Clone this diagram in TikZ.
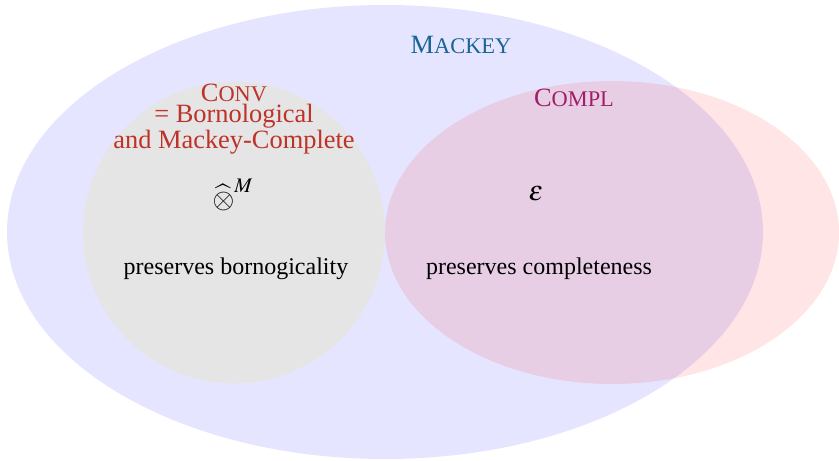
\documentclass[tikz,border=0pt]{standalone}
\usepackage{mathptmx}
\usepackage{fontspec}
\setmainfont{Liberation Serif}
\usetikzlibrary{positioning}
\definecolor{convred}{RGB}{190,50,40}
\definecolor{mackeyblue}{RGB}{25,100,150}
\definecolor{complpurple}{RGB}{160,30,105}
\newcommand{\fakesc}[2]{#1{\fontsize{11.2}{10}\selectfont #2}}
\begin{document}
\begin{tikzpicture}[
x=0.5pt,y=0.5pt,
lbl/.style={
font=\fontsize{12}{10.5}\selectfont,
align=center,
inner sep=0pt
},
head/.style={
lbl,
font=\fontsize{13.2}{10.6}\selectfont
},
sym/.style={
lbl,
font=\fontsize{14}{14}\selectfont
}
]
\useasboundingbox (0,0) rectangle (839,460);
\fill[blue,fill opacity=0.1] (385,228) ellipse [x radius=378, y radius=227];
\fill[black!10] (234,227.5) circle [radius=151];
\fill[red,fill opacity=0.1] (612,227.5) ellipse [x radius=227, y radius=151.5];

\node[head, text=mackeyblue] (mackey) at (461,415) {\fakesc{M}{ACKEY}};
\node[head, text=convred] (conv) at (234,341) {\fakesc{C}{ONV}\\= Bornological\\and Mackey-Complete};
\node[head, text=complpurple] (compl) at (574,362) {\fakesc{C}{OMPL}};

\node[sym] (tensor) at (233,265) {$\widehat{\otimes}^M$};
\node[sym] (eps) at (536,266) {$\varepsilon$};
\node[lbl] (born) at (236,191) {preserves bornogicality};
\node[lbl] (compl2) at (539,191) {preserves completeness};

\end{tikzpicture}
\end{document}
